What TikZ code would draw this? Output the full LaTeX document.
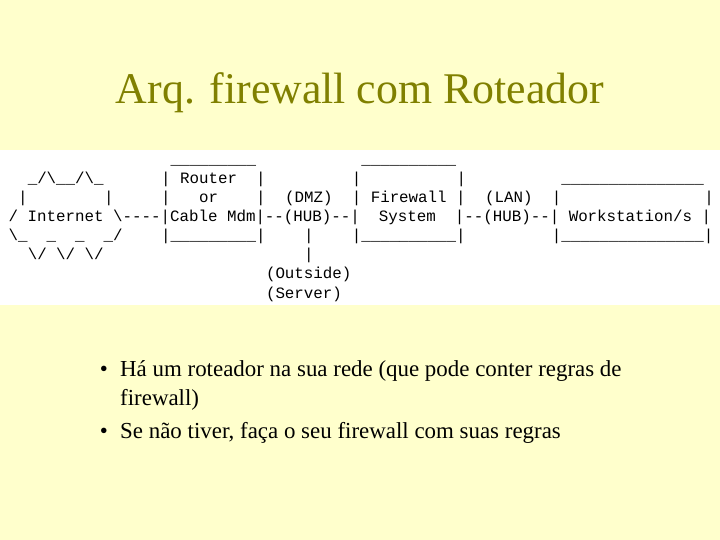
\documentclass[tikz,border=0pt]{standalone}
\usepackage{fontspec}
\setmainfont{Liberation Serif}
\setmonofont{Liberation Mono}
\definecolor{slidebg}{RGB}{255,255,204}
\definecolor{titleolive}{RGB}{128,128,0}
\newcommand\artat[4]{\node[art] (#1) at ({8.5+9.53*#2},{165+19*#3}) {#4};}
\begin{document}
\begin{tikzpicture}[x=1bp,y=-1bp,
  art/.style={font=\fontsize{15.88}{19}\ttfamily, inner sep=0pt, anchor=base west, text=black},
  bodytext/.style={font=\fontsize{23}{28}\selectfont, inner sep=0pt, anchor=base west, text=black},
  bulletmark/.style={font=\fontsize{23}{28}\selectfont, inner sep=0pt, anchor=base, text=black}]
\fill[slidebg] (0,0) rectangle (720,540);
\fill[white] (0,150) rectangle (720,305);
\useasboundingbox (0,0) rectangle (720,540);
% title
\node[font=\fontsize{44}{53}\selectfont, text=titleolive, inner sep=0pt, anchor=base] (title) at (360,104) {Arq. firewall com Roteador};
% ascii diagram
\artat{rtop}{17}{0}{\_\_\_\_\_\_\_\_\_}
\artat{fwtop}{37}{0}{\_\_\_\_\_\_\_\_\_\_}
\artat{cloudA}{2}{1}{\_/\textbackslash\_\_/\textbackslash\_}
\artat{rtA}{16}{1}{|~Router~~|}
\artat{fwA}{36}{1}{|}
\artat{fwB}{47}{1}{|}
\artat{wstop}{58}{1}{\_\_\_\_\_\_\_\_\_\_\_\_\_\_\_}
\artat{cloudB}{1}{2}{|}
\artat{cloudC}{10}{2}{|}
\artat{rtB}{16}{2}{|~~~or~~~~|}
\artat{dmz}{29}{2}{(DMZ)}
\artat{fwC}{36}{2}{|~Firewall~|}
\artat{lan}{50}{2}{(LAN)}
\artat{wsA}{57}{2}{|}
\artat{wsB}{73}{2}{|}
\artat{mainline}{0}{3}{/~Internet~\textbackslash----|Cable~Mdm|--(HUB)--|~~System~~|--(HUB)--|~Workstation/s~|}
\artat{cloudD}{0}{4}{\textbackslash\_~~\_~~\_~~\_/}
\artat{rtC}{16}{4}{|\_\_\_\_\_\_\_\_\_|}
\artat{dmzA}{31}{4}{|}
\artat{fwD}{36}{4}{|\_\_\_\_\_\_\_\_\_\_|}
\artat{wsC}{57}{4}{|\_\_\_\_\_\_\_\_\_\_\_\_\_\_\_|}
\artat{cloudE}{2}{5}{\textbackslash/~\textbackslash/~\textbackslash/}
\artat{dmzB}{31}{5}{|}
\artat{outside}{27}{6}{(Outside)}
\artat{server}{27}{7}{(Server)}
% bullets
\node[bulletmark] (m1) at (104,376) {\textbullet};
\node[bodytext] (b1) at (120,376) {Há um roteador na sua rede (que pode conter regras de};
\node[bodytext] (b2) at (120,405) {firewall)};
\node[bulletmark] (m2) at (104,438) {\textbullet};
\node[bodytext] (b3) at (120,438) {Se não tiver, faça o seu firewall com suas regras};
\end{tikzpicture}
\end{document}
